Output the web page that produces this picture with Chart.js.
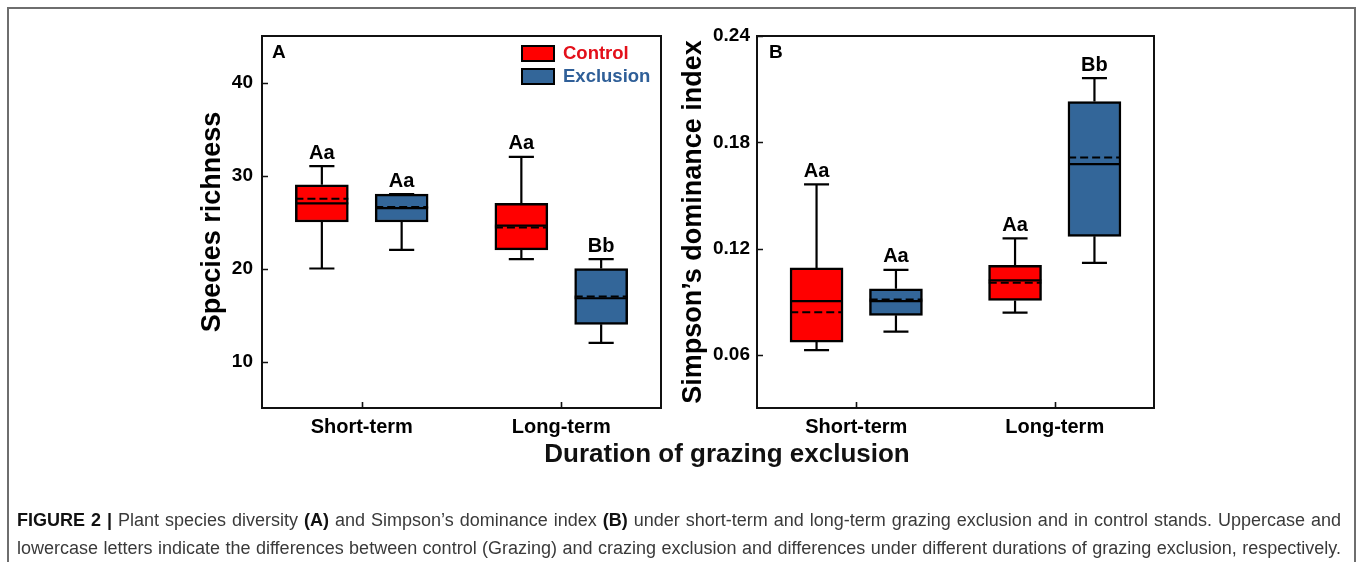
<!DOCTYPE html>
<html>
<head>
<meta charset="utf-8">
<script src="https://cdn.jsdelivr.net/npm/chart.js@4.4.1/dist/chart.umd.min.js"></script>
<style>
  html, body { margin: 0; padding: 0; background: #fff; }
  body { width: 1360px; height: 562px; position: relative; overflow: hidden; font-family: "Liberation Sans", Arial, sans-serif; }
  .frame { position: absolute; left: 7px; top: 7px; width: 1349px; height: 640px; border: 2px solid #6e6e6e; box-sizing: border-box; }
  canvas { position: absolute; left: 0; top: 0; }
  #xtitle { position: absolute; left: 427px; width: 600px; top: 438px; line-height: 30px; text-align: center; font-weight: bold; font-size: 26px; color: #111; }
  .cap { position: absolute; left: 17px; width: 1324px; font-size: 18px; line-height: 22px; color: #3a3a3a; white-space: nowrap; text-align: justify; text-align-last: justify; }
  .cap b { color: #111; }
</style>
</head>
<body>
<div class="frame"></div>
<canvas id="chartA" width="1360" height="562"></canvas>
<canvas id="chartB" width="1360" height="562"></canvas>
<div id="xtitle">Duration of grazing exclusion</div>
<div class="cap" style="top:509px"><b>FIGURE 2 |</b> Plant species diversity <b>(A)</b> and Simpson’s dominance index <b>(B)</b> under short-term and long-term grazing exclusion and in control stands. Uppercase and</div>
<div class="cap" style="top:537px">lowercase letters indicate the differences between control (Grazing) and crazing exclusion and differences under different durations of grazing exclusion, respectively.</div>
<script>
// ---------------- data ----------------
const categories = ['Short-term', 'Long-term'];
const groupNames = ['Control', 'Exclusion'];

// Panel A – species richness; each entry: [min, q1, median, q3, max]
const richnessControl = [[20, 25, 27, 29, 31], [21, 22, 24.6, 27, 32]];
const richnessExclusion = [[22, 25, 26.5, 28, 28], [12, 14, 16.8, 20, 21]];
const richnessControlMean = [27.5, 24.4];
const richnessExclusionMean = [26.6, 17.0];
const richnessControlLetters = ['Aa', 'Aa'];
const richnessExclusionLetters = ['Aa', 'Bb'];
const richnessTicks = [10, 20, 30, 40];

// Panel B – Simpson's dominance index; each entry: [min, q1, median, q3, max]
const simpsonControl = [[0.0627, 0.0672, 0.0903, 0.1091, 0.1562], [0.0838, 0.0907, 0.1021, 0.1106, 0.1258]];
const simpsonExclusion = [[0.0731, 0.0823, 0.0903, 0.0973, 0.1080], [0.1119, 0.1269, 0.1677, 0.2030, 0.2162]];
const simpsonControlMean = [0.0841, 0.1007];
const simpsonExclusionMean = [0.0913, 0.1714];
const simpsonControlLetters = ['Aa', 'Aa'];
const simpsonExclusionLetters = ['Aa', 'Bb'];
const simpsonTicks = [0.06, 0.12, 0.18, 0.24];

// ---------------- styling / layout ----------------
const FONT = '"Liberation Sans", Arial, sans-serif';
Chart.defaults.font.family = FONT;
Chart.defaults.color = '#000';
const groupColors = ['#ff0000', '#336699'];
const legendTextColors = ['#e3101a', '#2f5f98'];
const GROUP_OFFSET = [-0.2, 0.2];
const BOX_PX = 53;
const BOX_HALF = 0.1325;
const CAP_HALF = 0.063;

function cxOf(i, g) { return i + 0.5 + GROUP_OFFSET[g]; }

function buildDatasets(series) {
  const ds = [];
  series.forEach((s, g) => {
    ds.push({
      type: 'bar', label: groupNames[g],
      data: s.stats.map((st, i) => ({ x: cxOf(i, g), y: [st[1], st[3]] })),
      backgroundColor: groupColors[g], borderColor: '#000', borderWidth: 2.5,
      borderSkipped: false, barThickness: BOX_PX, grouped: false, order: 3
    });
    const pts = [];
    s.stats.forEach((st, i) => {
      const cx = cxOf(i, g);
      const gap = { x: cx, y: null };
      pts.push({ x: cx, y: st[0] }, { x: cx, y: st[1] }, gap);
      pts.push({ x: cx, y: st[3] }, { x: cx, y: st[4] }, gap);
      pts.push({ x: cx - CAP_HALF, y: st[0] }, { x: cx + CAP_HALF, y: st[0] }, gap);
      pts.push({ x: cx - CAP_HALF, y: st[4] }, { x: cx + CAP_HALF, y: st[4] }, gap);
      pts.push({ x: cx - BOX_HALF, y: st[2] }, { x: cx + BOX_HALF, y: st[2] }, gap);
    });
    ds.push({
      type: 'line', label: groupNames[g] + ' whiskers/median', data: pts,
      borderColor: '#000', borderWidth: 2.2, pointRadius: 0, spanGaps: false,
      fill: false, tension: 0, order: 2
    });
    const mpts = [];
    s.mean.forEach((m, i) => {
      const cx = cxOf(i, g);
      mpts.push({ x: cx - BOX_HALF, y: m }, { x: cx + BOX_HALF, y: m }, { x: cx, y: null });
    });
    ds.push({
      type: 'line', label: groupNames[g] + ' mean', data: mpts,
      borderColor: '#000', borderWidth: 2, borderDash: [8, 4], pointRadius: 0,
      spanGaps: false, fill: false, tension: 0, order: 1
    });
  });
  return ds;
}

const decor = {
  id: 'decor',
  afterDraw(chart, args, opts) {
    const ctx = chart.ctx;
    const { left, right, top, bottom } = chart.chartArea;
    const xs = chart.scales.x, ys = chart.scales.y;
    ctx.save();
    // frame
    ctx.strokeStyle = '#111';
    ctx.lineWidth = 2;
    ctx.strokeRect(left, top, right - left, bottom - top);
    // inward ticks
    ctx.lineWidth = 1.6;
    ctx.beginPath();
    ys.ticks.forEach(t => {
      const y = Math.round(ys.getPixelForValue(t.value)) + 0.5;
      ctx.moveTo(left, y); ctx.lineTo(left + 6, y);
    });
    xs.ticks.forEach(t => {
      const x = Math.round(xs.getPixelForValue(t.value)) + 0.5;
      ctx.moveTo(x, bottom); ctx.lineTo(x, bottom - 6);
    });
    ctx.stroke();
    // significance letters
    ctx.fillStyle = '#000';
    ctx.font = 'bold 20px ' + FONT;
    ctx.textAlign = 'center';
    ctx.textBaseline = 'middle';
    opts.series.forEach((s, g) => {
      s.stats.forEach((st, i) => {
        const x = xs.getPixelForValue(cxOf(i, g));
        const y = ys.getPixelForValue(st[4]) - 13;
        ctx.fillText(s.letters[i], x, y);
      });
    });
    // panel label
    ctx.font = 'bold 19px ' + FONT;
    ctx.textAlign = 'left';
    ctx.fillText(opts.panel, left + opts.panelDx, top + 17);
    // legend
    if (opts.legend) {
      groupNames.forEach((name, g) => {
        const by = top + 10 + g * 23;
        ctx.fillStyle = groupColors[g];
        ctx.fillRect(right - 139, by, 32, 15);
        ctx.strokeStyle = '#000';
        ctx.lineWidth = 2;
        ctx.strokeRect(right - 139, by, 32, 15);
        ctx.fillStyle = legendTextColors[g];
        ctx.font = 'bold 18.5px ' + FONT;
        ctx.textBaseline = 'middle';
        ctx.fillText(name, right - 98, by + 8);
      });
    }
    ctx.restore();
  }
};

function makeChart(id, cfg) {
  return new Chart(document.getElementById(id), {
    type: 'bar',
    data: { datasets: buildDatasets(cfg.series) },
    plugins: [decor],
    options: {
      responsive: false, animation: false, devicePixelRatio: 1,
      layout: { padding: cfg.padding },
      plugins: {
        legend: { display: false }, tooltip: { enabled: false },
        decor: { series: cfg.series, panel: cfg.panel, panelDx: cfg.panelDx, legend: cfg.legend }
      },
      scales: {
        x: {
          type: 'linear', min: 0, max: 2, offset: false, bounds: 'data',
          afterBuildTicks: s => { s.ticks = categories.map((c, i) => ({ value: i + 0.5 })); },
          afterFit: s => { s.height = 40; },
          grid: { display: false, drawTicks: false, offset: false }, border: { display: false },
          ticks: { callback: (v, i) => categories[i], font: { size: 20, weight: 'bold' }, color: '#000', padding: 7, maxRotation: 0, autoSkip: false }
        },
        y: {
          type: 'linear', min: cfg.yMin, max: cfg.yMax,
          afterBuildTicks: s => { s.ticks = cfg.ticks.map(v => ({ value: v })); },
          afterFit: s => { s.width = cfg.yWidth; },
          grid: { display: false, drawTicks: false }, border: { display: false },
          ticks: { callback: cfg.fmt, font: { size: 19, weight: 'bold' }, color: '#000', padding: cfg.tickPad, autoSkip: false },
          title: { display: true, text: cfg.title, font: { size: 27, weight: 'bold' }, color: '#000', padding: { top: cfg.titlePad, bottom: 0 } }
        }
      }
    }
  });
}

makeChart('chartA', {
  series: [
    { stats: richnessControl, mean: richnessControlMean, letters: richnessControlLetters },
    { stats: richnessExclusion, mean: richnessExclusionMean, letters: richnessExclusionLetters }
  ],
  padding: { left: 190, top: 36, right: 699, bottom: 114 },
  yWidth: 72, yMin: 5, yMax: 45, ticks: richnessTicks, fmt: v => String(v),
  tickPad: 9, titlePad: 6, title: 'Species richness', panel: 'A', panelDx: 10, legend: true
});

makeChart('chartB', {
  series: [
    { stats: simpsonControl, mean: simpsonControlMean, letters: simpsonControlLetters },
    { stats: simpsonExclusion, mean: simpsonExclusionMean, letters: simpsonExclusionLetters }
  ],
  padding: { left: 670, top: 36, right: 206, bottom: 114 },
  yWidth: 87, yMin: 0.03, yMax: 0.24, ticks: simpsonTicks, fmt: v => v.toFixed(2),
  tickPad: 7, titlePad: 7, title: 'Simpson’s dominance index', panel: 'B', panelDx: 12, legend: false
});
</script>
</body>
</html>
